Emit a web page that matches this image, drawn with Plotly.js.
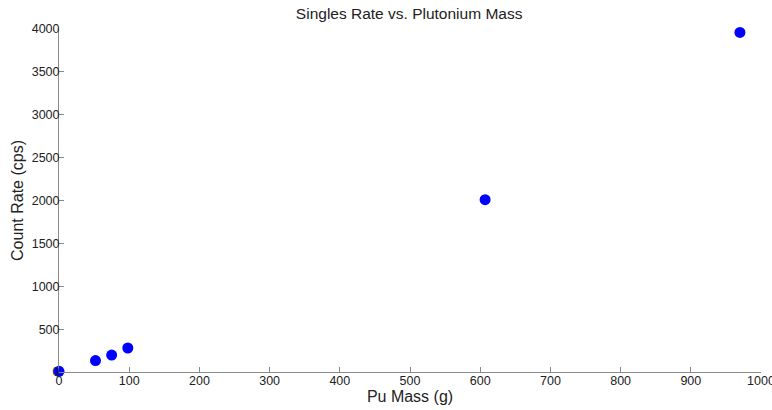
<!DOCTYPE html>
<html><head><meta charset="utf-8">
<script src="https://cdn.plot.ly/plotly-3.0.1.min.js"></script>
<style>body{margin:0;background:#fff}#c{width:772px;height:410px}</style>
</head><body><div id="c"></div>
<script>
const puMass = [0, 52, 75, 98, 607, 970];
const countRate = [8, 133, 198, 280, 2009, 3960];
const xTicks = [0,100,200,300,400,500,600,700,800,900,1000];
const yTicks = [0,500,1000,1500,2000,2500,3000,3500,4000];

const F = 'Liberation Sans, Arial';
const axisCommon = {
  showgrid:false, zeroline:false, showline:true, linecolor:'#8a8a8a', linewidth:1,
  ticks:'inside', ticklen:5, tickcolor:'#8a8a8a', tickfont:{family:F, size:12.5, color:'#222'},
  mirror:false, ticklabeloverflow:'allow'
};
Plotly.newPlot('c', [{
  x: puMass, y: countRate, type:'scatter', mode:'markers', cliponaxis:false,
  marker:{color:'#0000ff', size:11}
}], {
  width:772, height:410,
  margin:{l:59, r:11, t:29, b:38},
  paper_bgcolor:'#fff', plot_bgcolor:'#fff',
  title:{text:'Singles Rate vs. Plutonium Mass', font:{family:F, size:15.5, color:'#222'}, x:0.53, xanchor:'center', y:0.98, yanchor:'top'},
  xaxis: Object.assign({}, axisCommon, {range:[0,1000], tickvals:xTicks, ticktext:xTicks.map(String), ticklabelstandoff:-3,
    title:{text:'Pu Mass (g)', font:{family:F, size:16, color:'#222'}, standoff:0}}),
  yaxis: Object.assign({}, axisCommon, {range:[0,4000], tickvals:yTicks, ticktext:yTicks.map(String), ticklabelstandoff:-4,
    title:{text:'Count Rate (cps)', font:{family:F, size:16, color:'#222'}, standoff:4}}),
  showlegend:false
}, {displayModeBar:false, staticPlot:true});
</script></body></html>
